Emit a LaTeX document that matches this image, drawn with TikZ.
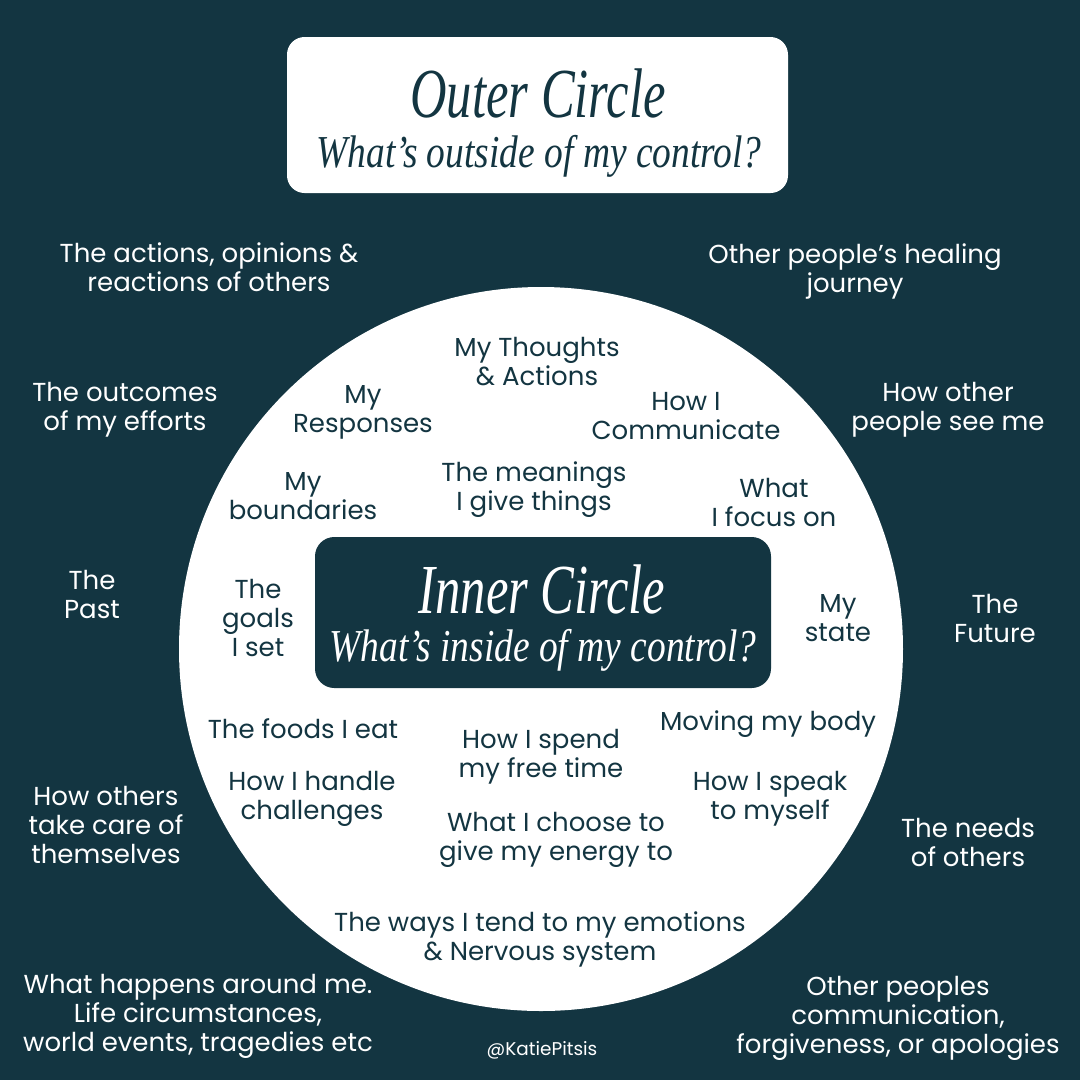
\documentclass[tikz,border=0pt]{standalone}
\usepackage{fontspec}
\usepackage{xcolor}
\usepackage{tikz}
\usetikzlibrary{positioning}
\setmainfont{Poppins}
\newfontfamily\headfont[FakeStretch=0.72]{Liberation Serif}
\newfontfamily\subfont[FakeStretch=0.82]{Liberation Serif}
\definecolor{CircleTeal}{HTML}{133541}
\definecolor{CirclePaper}{HTML}{FFFFFF}

\tikzset{
  outeritem/.style={align=center,text=white,font=\fontsize{14.8}{16.5}\selectfont,inner sep=0pt},
  inneritem/.style={align=center,text=CircleTeal,font=\fontsize{14.8}{16.5}\selectfont,inner sep=0pt},
  headline/.style={anchor=base,font=\headfont\itshape\fontsize{40}{40}\selectfont,inner sep=0pt},
  subline/.style={anchor=base,font=\subfont\itshape\fontsize{26}{26}\selectfont,inner sep=0pt}
}

\begin{document}
\begin{tikzpicture}[x=0.02cm,y=-0.02cm]
  % background and the big circle
  \fill[CircleTeal] (0,0) rectangle (1080,1080);
  \useasboundingbox (0,0) rectangle (1080,1080);
  \fill[CirclePaper] (541,649) circle (362);

  % outer heading
  \fill[CirclePaper,rounded corners=10pt] (287,37) rectangle (788,193);
  \node[headline,text=CircleTeal] (outerhead) at (538,117) {Outer Circle};
  \node[subline,text=CircleTeal] (outersub) at (539,167) {What’s outside of my control?};

  % inner heading
  \fill[CircleTeal,rounded corners=11pt] (315,537) rectangle (771,688);
  \node[headline,text=white] (innerhead) at (542,613) {Inner Circle};
  \node[subline,text=white] (innersub) at (543,661) {What’s inside of my control?};

  % outside of my control
  \node[outeritem] (others) at (209,267) {The actions, opinions \&\\reactions of others};
  \node[outeritem] (healing) at (855,271) {Other people's healing\\journey};
  \node[outeritem] (outcomes) at (125,410) {The outcomes\\of my efforts};
  \node[outeritem] (seeme) at (948,410) {How other\\people see me};
  \node[outeritem] (past) at (92,594) {The\\Past};
  \node[outeritem] (future) at (995,618) {The\\Future};
  \node[outeritem] (carethem) at (106,825) {How others\\take care of\\themselves};
  \node[outeritem] (needs) at (968,842) {The needs\\of others};
  \node[outeritem] (around) at (198,1016) {What happens around me.\\Life circumstances,\\world events, tragedies etc};
  \node[outeritem] (apology) at (898,1018) {Other peoples\\communication,\\forgiveness, or apologies};
  \node[outeritem,font=\fontsize{10.5}{12}\selectfont] (handle) at (542,1050) {@KatiePitsis};

  % inside of my control
  \node[inneritem] (thoughts) at (537,362) {My Thoughts\\\& Actions};
  \node[inneritem] (responses) at (363,412) {My\\Responses};
  \node[inneritem] (communicate) at (686,416) {How I\\Communicate};
  \node[inneritem] (boundaries) at (303,496) {My\\boundaries};
  \node[inneritem] (meanings) at (534,490) {The meanings\\I give things};
  \node[inneritem] (focus) at (774,502) {What\\I focus on};
  \node[inneritem] (goals) at (258,618) {The\\goals\\I set};
  \node[inneritem] (state) at (838,618) {My\\state};
  \node[inneritem] (foods) at (303,729) {The foods I eat};
  \node[inneritem] (freetime) at (541,757) {How I spend\\my free time};
  \node[inneritem] (moving) at (768,724) {Moving my body};
  \node[inneritem] (challenges) at (312,799) {How I handle\\challenges};
  \node[inneritem] (selftalk) at (770,799) {How I speak\\to myself};
  \node[inneritem] (energy) at (556,840) {What I choose to\\give my energy to};
  \node[inneritem] (emotions) at (540,939) {The ways I tend to my emotions\\\& Nervous system};
\end{tikzpicture}
\end{document}
